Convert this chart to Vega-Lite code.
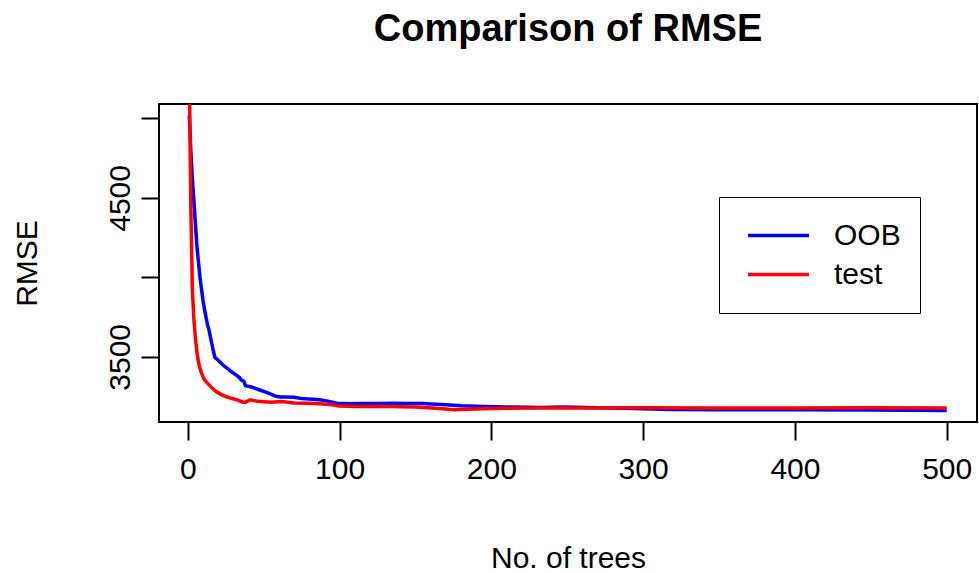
{
  "$schema": "https://vega.github.io/schema/vega-lite/v6.json",
  "autosize": {"type": "none"},
  "width": 818,
  "height": 318,
  "padding": {"left": 159, "top": 104, "right": 2, "bottom": 151},
  "background": "white",
  "title": {
    "text": "Comparison of RMSE",
    "font": "Liberation Sans",
    "fontSize": 38,
    "fontWeight": "bold",
    "color": "black",
    "anchor": "middle",
    "frame": "group",
    "baseline": "alphabetic",
    "offset": 25
  },
  "config": {
    "view": {"stroke": "black", "strokeWidth": 2},
    "font": "Liberation Sans",
    "axis": {
      "domain": false,
      "grid": false,
      "ticks": true,
      "tickColor": "black",
      "tickWidth": 2,
      "tickSize": 18,
      "labelColor": "black",
      "labelFont": "Liberation Sans",
      "labelFontSize": 30,
      "titleFont": "Liberation Sans",
      "titleFontSize": 30,
      "titleFontWeight": "normal",
      "titleColor": "black",
      "labelFlush": false,
      "labelOverlap": false
    }
  },
  "data": {
    "values": [
      {"trees": 1, "rmse": 5019, "set": "OOB"},
      {"trees": 2, "rmse": 4800, "set": "OOB"},
      {"trees": 3, "rmse": 4620, "set": "OOB"},
      {"trees": 4, "rmse": 4486, "set": "OOB"},
      {"trees": 5, "rmse": 4340, "set": "OOB"},
      {"trees": 6, "rmse": 4200, "set": "OOB"},
      {"trees": 7, "rmse": 4100, "set": "OOB"},
      {"trees": 8, "rmse": 4004, "set": "OOB"},
      {"trees": 9, "rmse": 3930, "set": "OOB"},
      {"trees": 10, "rmse": 3858, "set": "OOB"},
      {"trees": 11, "rmse": 3800, "set": "OOB"},
      {"trees": 12, "rmse": 3750, "set": "OOB"},
      {"trees": 13, "rmse": 3701, "set": "OOB"},
      {"trees": 14, "rmse": 3669, "set": "OOB"},
      {"trees": 15, "rmse": 3620, "set": "OOB"},
      {"trees": 16, "rmse": 3575, "set": "OOB"},
      {"trees": 17, "rmse": 3530, "set": "OOB"},
      {"trees": 18, "rmse": 3495, "set": "OOB"},
      {"trees": 19, "rmse": 3488, "set": "OOB"},
      {"trees": 20, "rmse": 3478, "set": "OOB"},
      {"trees": 23, "rmse": 3450, "set": "OOB"},
      {"trees": 26, "rmse": 3428, "set": "OOB"},
      {"trees": 28, "rmse": 3412, "set": "OOB"},
      {"trees": 30, "rmse": 3398, "set": "OOB"},
      {"trees": 32, "rmse": 3385, "set": "OOB"},
      {"trees": 34, "rmse": 3370, "set": "OOB"},
      {"trees": 35, "rmse": 3356, "set": "OOB"},
      {"trees": 37, "rmse": 3345, "set": "OOB"},
      {"trees": 38, "rmse": 3318, "set": "OOB"},
      {"trees": 40, "rmse": 3314, "set": "OOB"},
      {"trees": 42, "rmse": 3310, "set": "OOB"},
      {"trees": 45, "rmse": 3300, "set": "OOB"},
      {"trees": 47, "rmse": 3293, "set": "OOB"},
      {"trees": 50, "rmse": 3282, "set": "OOB"},
      {"trees": 54, "rmse": 3268, "set": "OOB"},
      {"trees": 58, "rmse": 3252, "set": "OOB"},
      {"trees": 61, "rmse": 3247, "set": "OOB"},
      {"trees": 64, "rmse": 3248, "set": "OOB"},
      {"trees": 70, "rmse": 3245, "set": "OOB"},
      {"trees": 75, "rmse": 3238, "set": "OOB"},
      {"trees": 80, "rmse": 3235, "set": "OOB"},
      {"trees": 87, "rmse": 3230, "set": "OOB"},
      {"trees": 93, "rmse": 3220, "set": "OOB"},
      {"trees": 98, "rmse": 3208, "set": "OOB"},
      {"trees": 107, "rmse": 3205, "set": "OOB"},
      {"trees": 115, "rmse": 3207, "set": "OOB"},
      {"trees": 125, "rmse": 3206, "set": "OOB"},
      {"trees": 135, "rmse": 3208, "set": "OOB"},
      {"trees": 146, "rmse": 3207, "set": "OOB"},
      {"trees": 155, "rmse": 3206, "set": "OOB"},
      {"trees": 160, "rmse": 3204, "set": "OOB"},
      {"trees": 170, "rmse": 3199, "set": "OOB"},
      {"trees": 180, "rmse": 3193, "set": "OOB"},
      {"trees": 195, "rmse": 3188, "set": "OOB"},
      {"trees": 210, "rmse": 3184, "set": "OOB"},
      {"trees": 225, "rmse": 3183, "set": "OOB"},
      {"trees": 232, "rmse": 3181, "set": "OOB"},
      {"trees": 247, "rmse": 3184, "set": "OOB"},
      {"trees": 262, "rmse": 3182, "set": "OOB"},
      {"trees": 280, "rmse": 3178, "set": "OOB"},
      {"trees": 300, "rmse": 3174, "set": "OOB"},
      {"trees": 318, "rmse": 3168, "set": "OOB"},
      {"trees": 350, "rmse": 3167, "set": "OOB"},
      {"trees": 400, "rmse": 3167, "set": "OOB"},
      {"trees": 450, "rmse": 3166, "set": "OOB"},
      {"trees": 500, "rmse": 3163, "set": "OOB"},
      {"trees": 1, "rmse": 5300, "set": "test"},
      {"trees": 2, "rmse": 4450, "set": "test"},
      {"trees": 3, "rmse": 3930, "set": "test"},
      {"trees": 4, "rmse": 3740, "set": "test"},
      {"trees": 5, "rmse": 3620, "set": "test"},
      {"trees": 6, "rmse": 3530, "set": "test"},
      {"trees": 7, "rmse": 3470, "set": "test"},
      {"trees": 8, "rmse": 3430, "set": "test"},
      {"trees": 9, "rmse": 3400, "set": "test"},
      {"trees": 10, "rmse": 3375, "set": "test"},
      {"trees": 11, "rmse": 3356, "set": "test"},
      {"trees": 13, "rmse": 3335, "set": "test"},
      {"trees": 15, "rmse": 3314, "set": "test"},
      {"trees": 17, "rmse": 3295, "set": "test"},
      {"trees": 19, "rmse": 3280, "set": "test"},
      {"trees": 21, "rmse": 3268, "set": "test"},
      {"trees": 24, "rmse": 3255, "set": "test"},
      {"trees": 27, "rmse": 3243, "set": "test"},
      {"trees": 30, "rmse": 3236, "set": "test"},
      {"trees": 33, "rmse": 3228, "set": "test"},
      {"trees": 36, "rmse": 3216, "set": "test"},
      {"trees": 38, "rmse": 3214, "set": "test"},
      {"trees": 41, "rmse": 3230, "set": "test"},
      {"trees": 45, "rmse": 3222, "set": "test"},
      {"trees": 50, "rmse": 3218, "set": "test"},
      {"trees": 55, "rmse": 3214, "set": "test"},
      {"trees": 62, "rmse": 3219, "set": "test"},
      {"trees": 70, "rmse": 3210, "set": "test"},
      {"trees": 80, "rmse": 3208, "set": "test"},
      {"trees": 87, "rmse": 3205, "set": "test"},
      {"trees": 95, "rmse": 3198, "set": "test"},
      {"trees": 100, "rmse": 3190, "set": "test"},
      {"trees": 110, "rmse": 3188, "set": "test"},
      {"trees": 120, "rmse": 3188, "set": "test"},
      {"trees": 130, "rmse": 3189, "set": "test"},
      {"trees": 140, "rmse": 3186, "set": "test"},
      {"trees": 150, "rmse": 3184, "set": "test"},
      {"trees": 161, "rmse": 3178, "set": "test"},
      {"trees": 170, "rmse": 3172, "set": "test"},
      {"trees": 175, "rmse": 3167, "set": "test"},
      {"trees": 185, "rmse": 3170, "set": "test"},
      {"trees": 195, "rmse": 3173, "set": "test"},
      {"trees": 210, "rmse": 3176, "set": "test"},
      {"trees": 232, "rmse": 3178, "set": "test"},
      {"trees": 260, "rmse": 3178, "set": "test"},
      {"trees": 300, "rmse": 3179, "set": "test"},
      {"trees": 350, "rmse": 3178, "set": "test"},
      {"trees": 400, "rmse": 3178, "set": "test"},
      {"trees": 450, "rmse": 3179, "set": "test"},
      {"trees": 500, "rmse": 3178, "set": "test"}
    ]
  },
  "mark": {"type": "line", "strokeWidth": 3.5, "clip": true, "interpolate": "linear"},
  "encoding": {
    "x": {
      "field": "trees",
      "type": "quantitative",
      "scale": {"domain": [-18.96, 519.96], "nice": false, "zero": false},
      "axis": {
        "title": "No. of trees",
        "values": [0, 100, 200, 300, 400, 500],
        "tickSize": 18,
        "labelPadding": 14,
        "titleBaseline": "alphabetic",
        "titleY": 145,
        "titleAnchor": "middle"
      }
    },
    "y": {
      "field": "rmse",
      "type": "quantitative",
      "scale": {"domain": [3090, 5091], "nice": false, "zero": false},
      "axis": {
        "title": "RMSE",
        "values": [3500, 4000, 4500, 5000],
        "labelExpr": "datum.value == 3500 || datum.value == 4500 ? datum.label : ''",
        "labelAngle": -90,
        "labelAlign": "center",
        "labelBaseline": "bottom",
        "labelPadding": 6,
        "tickSize": 18,
        "format": "d",
        "titleAngle": -90,
        "titleBaseline": "alphabetic",
        "titleAlign": "center",
        "titleX": -123,
        "titleY": 159
      }
    },
    "color": {
      "field": "set",
      "type": "nominal",
      "scale": {"domain": ["OOB", "test"], "range": ["#0000FF", "#FF0000"]},
      "legend": {
        "title": null,
        "orient": "none",
        "legendX": 560,
        "legendY": 93,
        "symbolType": "stroke",
        "symbolSize": 3721,
        "symbolStrokeWidth": 3.5,
        "labelFontSize": 30,
        "labelFont": "Liberation Sans",
        "labelColor": "black",
        "labelOffset": 23,
        "padding": 19,
        "symbolOffset": 8,
        "clipHeight": 39,
        "rowPadding": 0,
        "strokeColor": "black",
        "fillColor": "white"
      }
    }
  }
}
